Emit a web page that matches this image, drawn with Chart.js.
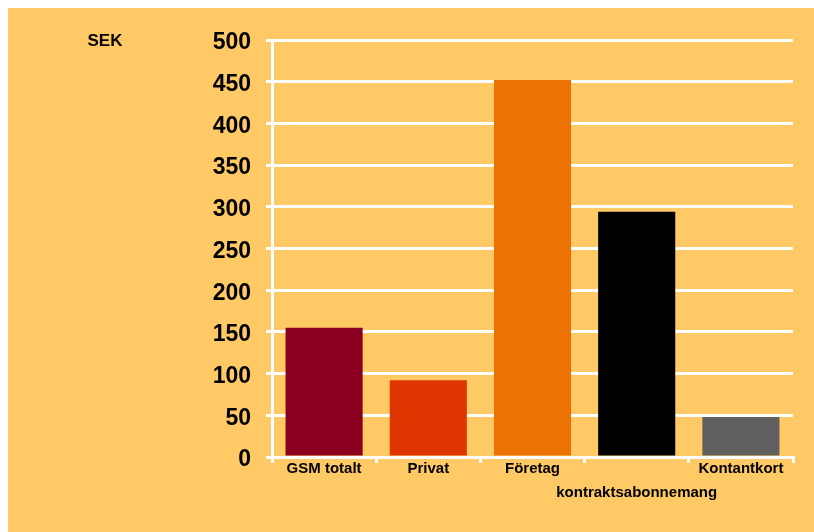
<!DOCTYPE html>
<html>
<head>
<meta charset="utf-8">
<script src="https://cdn.jsdelivr.net/npm/chart.js@4/dist/chart.umd.min.js"></script>
<style>
  html, body { margin: 0; padding: 0; background: #ffffff; }
  #wrap { width: 814px; height: 532px; position: relative; }
</style>
</head>
<body>
<div id="wrap"><canvas id="c" width="814" height="532"></canvas></div>
<script>
const categories = ["GSM totalt", "Privat", "Företag", ["", "kontraktsabonnemang"], "Kontantkort"];
const values = [155, 92, 452, 294, 48];
const barColors = ["#8B0020", "#DF3500", "#EC7203", "#000000", "#606060"];
const yTicks = [0, 50, 100, 150, 200, 250, 300, 350, 400, 450, 500];
const unitLabel = "SEK";

const bgPlugin = {
  id: 'bg',
  beforeDraw(chart) {
    const ctx = chart.ctx;
    ctx.save();
    ctx.fillStyle = '#ffffff';
    ctx.fillRect(0, 0, chart.width, chart.height);
    ctx.fillStyle = '#FFCA66';
    ctx.fillRect(8, 8, chart.width - 8, chart.height - 8);
    ctx.restore();
  },
  afterDraw(chart) {
    const ctx = chart.ctx;
    ctx.save();
    ctx.fillStyle = '#000';
    ctx.font = 'bold 17px "Liberation Sans", Arial, sans-serif';
    ctx.textAlign = 'center';
    ctx.textBaseline = 'middle';
    ctx.fillText(unitLabel, 105, 41);
    ctx.restore();
  }
};

new Chart(document.getElementById('c'), {
  type: 'bar',
  data: {
    labels: categories,
    datasets: [{
      data: values,
      backgroundColor: barColors,
      borderWidth: 0,
      barPercentage: 0.74,
      categoryPercentage: 1.0
    }]
  },
  options: {
    responsive: false,
    animation: false,
    layout: { padding: { top: 40, right: 21, left: 0, bottom: 0 } },
    plugins: { legend: { display: false }, tooltip: { enabled: false } },
    scales: {
      x: {
        offset: true,
        grid: { drawOnChartArea: false, drawTicks: true, tickLength: 6, color: '#ffffff', lineWidth: 3, offset: true },
        border: { color: '#ffffff', width: 3 },
        ticks: {
          color: '#000',
          padding: -7,
          maxRotation: 0,
          autoSkip: false,
          font: { family: '"Liberation Sans", Arial, sans-serif', size: 15, weight: 'bold', lineHeight: 1.65 }
        },
        afterFit(scale) { scale.height = 75; }
      },
      y: {
        min: 0,
        max: 500,
        afterBuildTicks(scale) { scale.ticks = yTicks.map(v => ({ value: v })); },
        grid: { color: '#ffffff', lineWidth: 3, drawTicks: true, tickLength: 6 },
        border: { color: '#ffffff', width: 3 },
        ticks: {
          color: '#000',
          padding: 15,
          callback: (v) => ["", String(v)],
          font: { family: '"Liberation Sans", Arial, sans-serif', size: 23, weight: 'bold', lineHeight: 0.26 }
        },
        afterFit(scale) { scale.width = 272; }
      }
    }
  },
  plugins: [bgPlugin]
});
</script>
</body>
</html>
